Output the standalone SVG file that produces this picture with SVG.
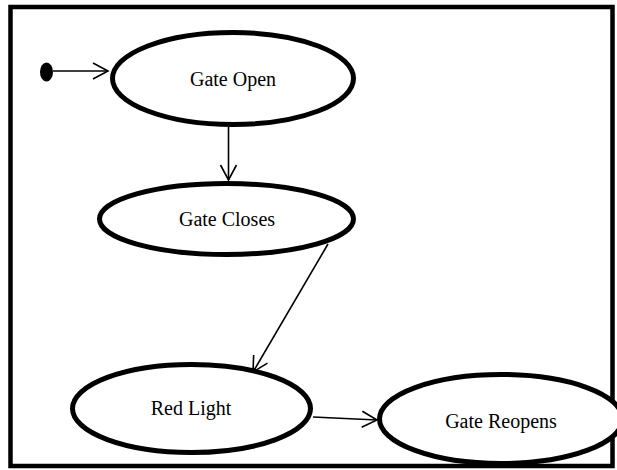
<svg xmlns="http://www.w3.org/2000/svg" width="617" height="470" viewBox="0 0 617 470">
<defs>
<style>
.st{fill:#fff;stroke:#000;stroke-width:5}
.lb{font-family:"Liberation Serif","Times New Roman",serif;font-size:20px;fill:#000;text-anchor:middle}
.cn{stroke:#000;stroke-width:1.6;fill:none}
</style>
<marker id="ah" markerWidth="20" markerHeight="20" refX="17" refY="9" orient="auto" markerUnits="userSpaceOnUse">
<path d="M2,1 L17,9 L2,17" fill="none" stroke="#000" stroke-width="1.6"/>
</marker>
</defs>
<rect x="10.5" y="7" width="602" height="459" fill="#fff" stroke="#000" stroke-width="4.5"/>
<g id="connectors">
<line class="cn" x1="53" y1="71" x2="108" y2="71" marker-end="url(#ah)"/>
<line class="cn" x1="228.5" y1="127" x2="228.5" y2="180" marker-end="url(#ah)"/>
<line class="cn" x1="328" y1="244" x2="253" y2="372" marker-end="url(#ah)"/>
<line class="cn" x1="313" y1="417" x2="377" y2="420" marker-end="url(#ah)"/>
</g>
<g id="initial"><ellipse cx="46.5" cy="72" rx="6.5" ry="9.5" fill="#000"/></g>
<g id="gate-open"><ellipse class="st" cx="233" cy="78.5" rx="120.5" ry="46"/><text class="lb" x="233" y="86">Gate Open</text></g>
<g id="gate-closes"><ellipse class="st" cx="226.5" cy="219" rx="127" ry="35.5"/><text class="lb" x="227" y="226">Gate Closes</text></g>
<g id="red-light"><ellipse class="st" cx="191.5" cy="408.5" rx="119" ry="44"/><text class="lb" x="191" y="415">Red Light</text></g>
<g id="gate-reopens"><ellipse class="st" cx="501" cy="419" rx="121.5" ry="44.5"/><text class="lb" x="501" y="428">Gate Reopens</text></g>
</svg>
